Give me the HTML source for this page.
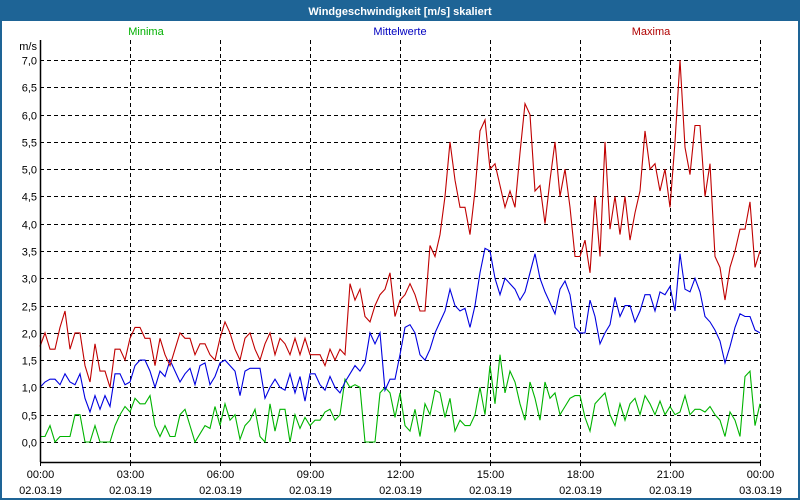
<!DOCTYPE html>
<html><head><meta charset="utf-8"><style>
body{margin:0;width:800px;height:500px;overflow:hidden;background:#fff;font-family:"Liberation Sans",sans-serif}
</style></head><body>
<svg width="800" height="500" style="position:absolute;left:0;top:0">
<rect x="0" y="0" width="800" height="500" fill="#1e6496"/>
<rect x="2" y="21" width="796" height="477" fill="#fff"/>
<text x="400" y="15" text-anchor="middle" fill="#fff" font-size="11" font-weight="bold">Windgeschwindigkeit [m/s] skaliert</text>
<text x="146" y="35" text-anchor="middle" fill="#00b000" font-size="11">Minima</text>
<text x="400" y="35" text-anchor="middle" fill="#0000c0" font-size="11">Mittelwerte</text>
<text x="651" y="35" text-anchor="middle" fill="#b00000" font-size="11">Maxima</text>
<text x="37" y="50" text-anchor="end" font-size="11">m/s</text>
<g id="grid"></g><g id="series"></g><g id="axes"></g>
</svg>
<script>
const yTicks=[0,0.5,1,1.5,2,2.5,3,3.5,4,4.5,5,5.5,6,6.5,7];
const xTickHours=[0,3,6,9,12,15,18,21,24];
const xTimeLabels=["00:00","03:00","06:00","09:00","12:00","15:00","18:00","21:00","00:00"];
const xDateLabels=["02.03.19","02.03.19","02.03.19","02.03.19","02.03.19","02.03.19","02.03.19","02.03.19","03.03.19"];
const maxima=[1.75,2.0,1.7,1.7,2.1,2.4, 1.7,2.0,2.0,1.4,1.1,1.8, 1.3,1.3,1.0,1.7,1.7,1.5, 1.9,2.1,2.1,1.9,1.9,1.4, 1.9,1.6,1.4,1.7,2.0,1.9, 1.9,1.6,1.8,1.8,1.6,1.5, 1.9,2.2,2.0,1.7,1.5,1.9, 2.0,1.7,1.5,1.8,2.0,1.6, 1.9,1.8,1.6,1.9,1.6,1.9, 1.6,1.6,1.6,1.4,1.7,1.5, 1.7,1.6,2.9,2.6,2.8,2.3, 2.2,2.5,2.7,2.8,3.1,2.3, 2.6,2.7,2.9,2.7,2.4,2.4, 3.6,3.4,3.8,4.5,5.5,4.8, 4.3,4.3,3.8,4.6,5.7,5.9, 5.0,5.1,4.7,4.3,4.6,4.3, 5.3,6.2,6.0,4.6,4.7,4.0, 4.8,5.5,4.5,5.0,4.3,3.4, 3.4,3.7,3.1,4.5,3.4,5.5, 3.9,4.5,3.8,4.5,3.7,4.2, 4.6,5.7,5.0,5.1,4.6,5.0, 4.3,5.5,7.0,5.4,4.9,5.8, 5.8,4.5,5.1,3.4,3.2,2.6, 3.2,3.5,3.9,3.9,4.4,3.2, 3.5];
const mittel=[1.0,1.1,1.15,1.15,1.05,1.25, 1.1,1.05,1.25,0.8,0.55,0.85, 0.6,0.85,0.65,1.25,1.25,1.05, 1.1,1.4,1.5,1.5,1.3,1.0, 1.3,1.2,1.5,1.3,1.1,1.25, 1.35,1.05,1.4,1.45,1.05,1.2, 1.45,1.5,1.4,1.3,0.85,1.3, 1.35,1.35,1.35,0.8,1.0,1.15, 1.0,0.95,1.25,0.9,1.2,0.75, 1.25,1.25,1.05,0.95,1.2,1.0, 0.9,1.1,1.25,1.4,1.3,1.45, 2.0,1.8,2.0,0.95,1.15,1.15, 1.6,2.1,2.15,2.0,1.6,1.5, 1.7,2.0,2.2,2.4,2.8,2.5, 2.4,2.45,2.1,2.5,3.1,3.55, 3.5,3.0,2.7,3.0,2.9,2.8, 2.6,2.75,3.1,3.45,3.0,2.75, 2.55,2.35,2.8,2.95,2.7,2.1, 2.0,2.0,2.6,2.3,1.8,2.0, 2.15,2.65,2.3,2.5,2.5,2.2, 2.4,2.7,2.7,2.4,2.75,2.7, 2.85,2.4,3.45,2.8,2.75,3.0, 2.75,2.3,2.2,2.05,1.85,1.45, 1.75,2.1,2.35,2.3,2.3,2.05, 2.0];
const minima=[0.1,0.1,0.3,0.0,0.1,0.1, 0.1,0.5,0.5,0.0,0.0,0.3, 0.0,0.0,0.0,0.3,0.5,0.65, 0.55,0.8,0.7,0.7,0.85,0.3, 0.1,0.3,0.1,0.1,0.5,0.6, 0.3,0.0,0.15,0.3,0.25,0.65, 0.3,0.7,0.4,0.5,0.05,0.3, 0.4,0.6,0.1,0.0,0.7,0.2, 0.6,0.6,0.0,0.5,0.25,0.45, 0.3,0.4,0.4,0.55,0.6,0.4, 0.5,1.15,1.0,1.05,1.0,0.0, 0.0,0.0,0.9,1.0,0.9,0.45, 0.9,0.3,0.2,0.6,0.1,0.7, 0.5,0.95,0.9,0.45,0.8,0.2, 0.4,0.3,0.3,0.5,1.0,0.5, 1.4,0.7,1.6,0.9,1.3,1.1, 0.7,0.4,1.1,0.8,0.4,1.1, 0.8,0.9,0.5,0.65,0.8,0.85, 0.85,0.45,0.2,0.7,0.8,0.9, 0.5,0.3,0.7,0.4,0.7,0.8, 0.5,0.85,0.7,0.5,0.75,0.5, 0.65,0.5,0.55,0.85,0.5,0.6, 0.6,0.55,0.65,0.5,0.4,0.1, 0.55,0.4,0.1,1.2,1.3,0.3, 0.7];

const NS='http://www.w3.org/2000/svg';
const X0=40,X1=760,YT=40,YB=462;
function xHour(h){return X0+(X1-X0)*h/24;}
function yVal(v){return 442-v*(382/7);}
function mk(tag,attrs,parent){const e=document.createElementNS(NS,tag);for(const k in attrs)e.setAttribute(k,attrs[k]);parent.appendChild(e);return e;}
const grid=document.getElementById('grid'),series=document.getElementById('series'),axes=document.getElementById('axes');
yTicks.forEach((v,i)=>{
  const y=Math.round(yVal(v))+0.5;
  const l=mk('line',{x1:X0,x2:X1,y1:y,y2:y,stroke:'#000','stroke-dasharray':'4,3','stroke-width':1},grid);
  
  
  const t=mk('text',{x:37,y:y+4,'text-anchor':'end','font-size':11},axes);
  t.textContent=v.toFixed(1).replace('.',',');
  
  
});
xTickHours.forEach((h,i)=>{
  const x=Math.round(xHour(h))+0.5;
  if(h>0){const l=mk('line',{x1:x,x2:x,y1:YT,y2:YB,stroke:'#000','stroke-dasharray':'4,3','stroke-width':1},grid);
  
  }
  const tk=mk('line',{x1:x,x2:x,y1:YB,y2:YB+4,stroke:'#000'},axes);
  
  
  const t=mk('text',{x:x,y:478,'text-anchor':'middle','font-size':11},axes);
  t.textContent=xTimeLabels[i];
  
  
  const d=mk('text',{x:x,y:494,'text-anchor':'middle','font-size':11},axes);
  d.textContent=xDateLabels[i];
  
  
});
const ya=mk('line',{x1:X0+0.5,x2:X0+0.5,y1:YT,y2:YB,stroke:'#000','stroke-width':1.5},axes);


const xa=mk('line',{x1:X0,x2:X1,y1:YB+0.5,y2:YB+0.5,stroke:'#000','stroke-width':1.5},axes);


function draw(arr,color,name){
  const n=arr.length-1;
  const pts=arr.map((v,i)=>xHour(i*24/n).toFixed(1)+','+yVal(v).toFixed(1)).join(' ');
  const p=mk('polyline',{points:pts,fill:'none',stroke:color,'stroke-width':1.1},series);
  
  
}
draw(minima,'#00b400','minima-line');
draw(mittel,'#0000e0','mittelwerte-line');
draw(maxima,'#c00000','maxima-line');
</script>
</body></html>
